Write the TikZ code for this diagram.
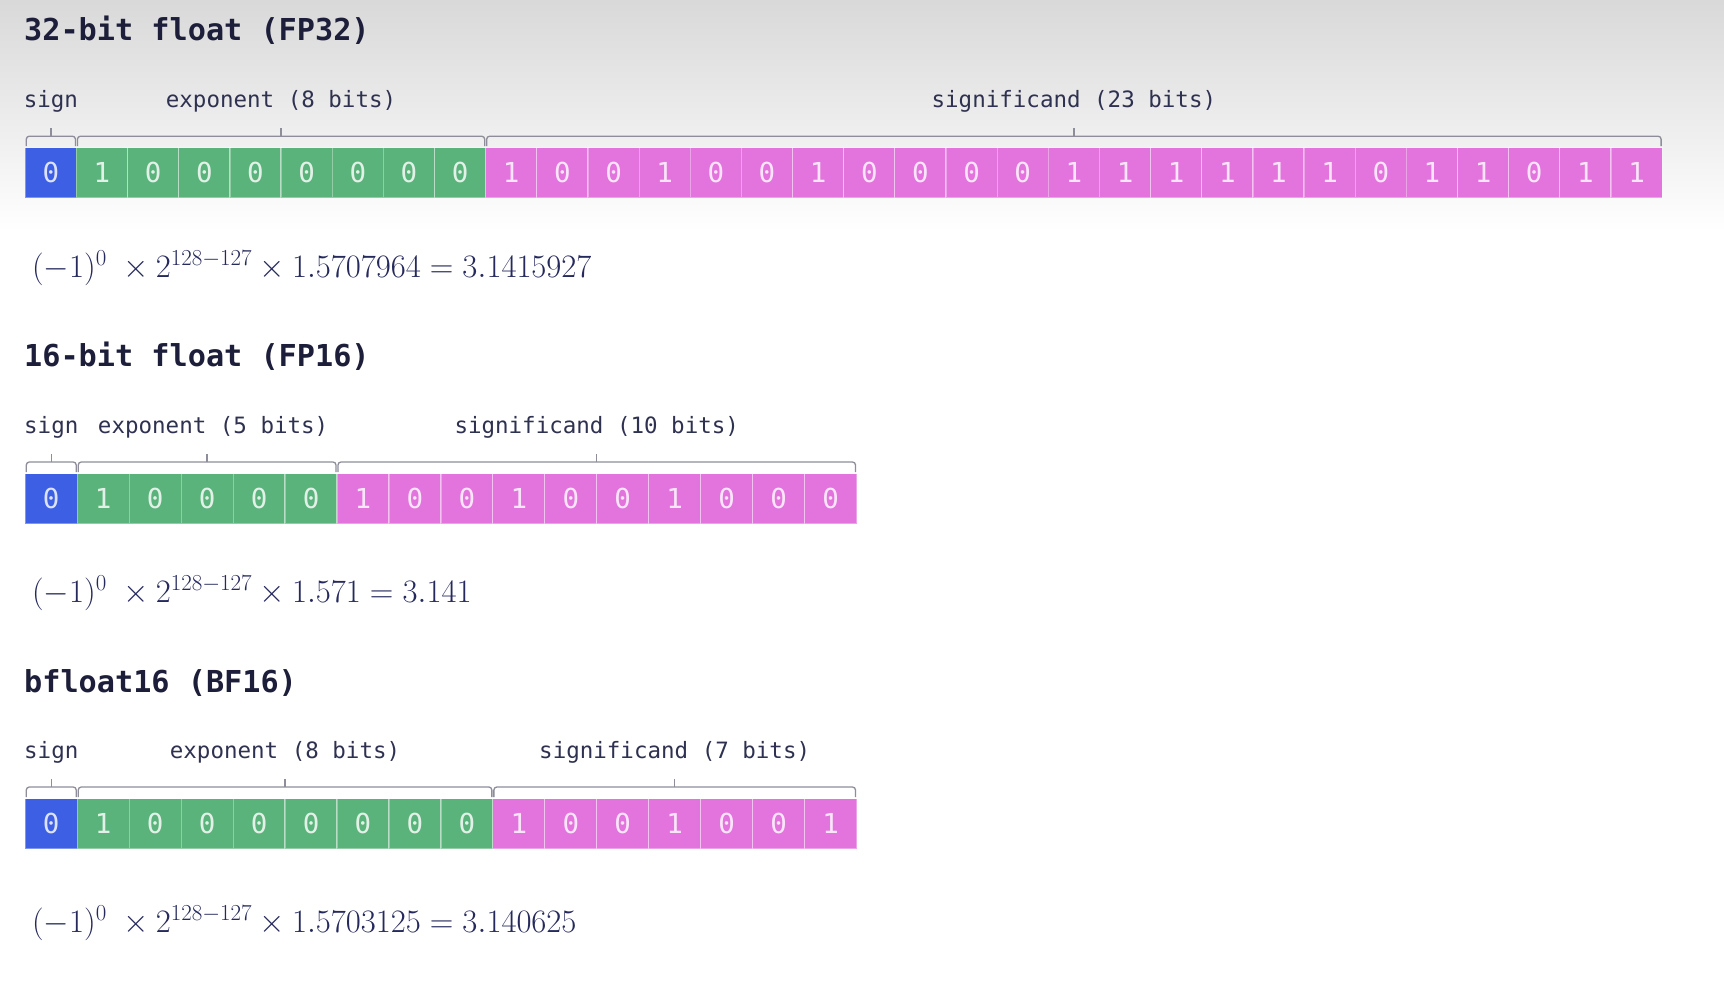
\documentclass[tikz,border=0pt]{standalone}
\usepackage{fix-cm}
\usepackage{fontspec}
\newfontfamily\mono{DejaVu Sans Mono}
\usetikzlibrary{calc}
\definecolor{signc}{HTML}{3D5FE4}
\definecolor{expc}{HTML}{5AB37A}
\definecolor{sigc}{HTML}{E373DD}
\definecolor{ink}{HTML}{2E3150}
\definecolor{titleink}{HTML}{1C1E3A}
\definecolor{mathink}{HTML}{25295C}
\definecolor{brk}{HTML}{8E8E9A}
\tikzset{
  bitcell/.style={draw=white, draw opacity=0.35, line width=1.2pt, minimum height=50pt,
    inner sep=0pt, outer sep=0pt, text=white, text opacity=0.82,
    font=\mono\fontsize{27.5}{30}\selectfont},
  bracket/.style={draw=brk, line width=1.3pt},
  lbl/.style={text=ink, inner sep=0pt, font=\mono\fontsize{22.5}{26}\selectfont},
  ttl/.style={text=titleink, inner sep=0pt, font=\mono\bfseries\fontsize{30.2}{33}\selectfont},
  frm/.style={text=mathink, inner sep=0pt, font=\fontsize{32.7}{36}\selectfont}
}
% #1 row name, #2 top y, #3 cell width, #4 exponent bits, #5 bits
\newcommand\bitrow[5]{%
  \foreach \b [count=\i] in {#5} {%
    \pgfmathsetmacro\xx{25.3+(\i-1)*#3}%
    \ifnum\i=1 \def\cc{signc}\else\ifnum\i>\numexpr#4+1\relax \def\cc{sigc}\else\def\cc{expc}\fi\fi
    \node[bitcell, fill=\cc, minimum width=#3pt, anchor=north west] (#1-\i) at (\xx,#2) {\b};
  }%
}
% #1 first cell, #2 last cell, #3 name, #4 label, #5 label x shift
\newcommand\fieldbrace[5]{%
  \coordinate (#3-l) at ($(#1.north west)+(1,-1.5)$);
  \coordinate (#3-r) at ($(#2.north east)+(-1,-1.5)$);
  \coordinate (#3-m) at ($(#3-l)!0.5!(#3-r)+(0,-10)$);
  \draw[bracket, rounded corners=3pt] (#3-l) |- (#3-m) -| (#3-r);
  \draw[bracket] (#3-m) -- ++(0,-8.5);
  \node[lbl, anchor=base] (#3-t) at ($(#3-m)+(#5,-28.5)$) {#4};
}
\begin{document}
\begin{tikzpicture}[x=1pt,y=-1pt]
\useasboundingbox (0,0) rectangle (1724,986);
\fill[white] (0,0) rectangle (1724,986);
\shade[top color=black!15, bottom color=white] (0,0) rectangle (1724,232);

% ---------- FP32 ----------
\node[ttl, anchor=base west] (t32) at (24,40.7) {32-bit float (FP32)};
\bitrow{a}{147.7}{51.15}{8}{0,1,0,0,0,0,0,0,0,1,0,0,1,0,0,1,0,0,0,0,1,1,1,1,1,1,0,1,1,0,1,1}
\fieldbrace{a-1}{a-1}{as}{sign}{0}
\fieldbrace{a-2}{a-9}{ae}{exponent (8 bits)}{0}
\fieldbrace{a-10}{a-32}{am}{significand (23 bits)}{0}
\node[frm, anchor=base west] (f32) at (32,277) {$(-1)^0\;\times 2^{128-127}\times 1.5707964 = 3.1415927$};

% ---------- FP16 ----------
\node[ttl, anchor=base west] (t16) at (24,366.5) {16-bit float (FP16)};
\bitrow{b}{473.5}{51.95}{5}{0,1,0,0,0,0,1,0,0,1,0,0,1,0,0,0}
\fieldbrace{b-1}{b-1}{bs}{sign}{0}
\fieldbrace{b-2}{b-6}{be}{exponent (5 bits)}{6}
\fieldbrace{b-7}{b-16}{bm}{significand (10 bits)}{0}
\node[frm, anchor=base west] (f16) at (32,602) {$(-1)^0\;\times 2^{128-127}\times 1.571 = 3.141$};

% ---------- BF16 ----------
\node[ttl, anchor=base west] (tbf) at (24,692) {bfloat16 (BF16)};
\bitrow{c}{798.5}{51.95}{8}{0,1,0,0,0,0,0,0,0,1,0,0,1,0,0,1}
\fieldbrace{c-1}{c-1}{cs}{sign}{0}
\fieldbrace{c-2}{c-9}{ce}{exponent (8 bits)}{0}
\fieldbrace{c-10}{c-16}{cm}{significand (7 bits)}{0}
\node[frm, anchor=base west] (fbf) at (32,932) {$(-1)^0\;\times 2^{128-127}\times 1.5703125 = 3.140625$};
\end{tikzpicture}
\end{document}
